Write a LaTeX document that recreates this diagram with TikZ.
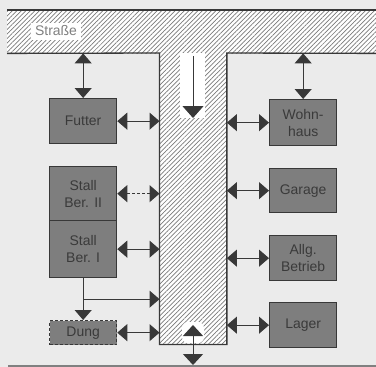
\documentclass[tikz,border=0pt]{standalone}
\usepackage{fontspec}
\setmainfont{Liberation Sans}
\usetikzlibrary{arrows.meta,patterns.meta,calc}
\definecolor{bg}{HTML}{EBEBEB}
\definecolor{boxfill}{HTML}{7E7E7E}
\definecolor{boxline}{HTML}{383838}
\definecolor{txt}{HTML}{3A3A3A}
\definecolor{hatchc}{HTML}{7A7A7A}
\tikzset{
  box/.style={draw=boxline, line width=1.3bp, fill=boxfill, text=txt,
    font=\fontsize{14}{17}\selectfont, align=center, inner sep=0pt,
    anchor=north west, minimum width=67bp},
  hatch/.style={pattern={Lines[angle=45,distance=3.2bp,line width=0.7bp]}, pattern color=hatchc},
  dbl/.style={draw=boxline, line width=1bp, {Triangle[length=10bp,width=17bp]}-{Triangle[length=10bp,width=17bp]}},
  sgl/.style={draw=boxline, line width=1bp, -{Triangle[length=10bp,width=17bp]}},
  outline/.style={draw=boxline, line width=1.3bp}
}
\begin{document}
\begin{tikzpicture}[x=1bp,y=-1bp]
\fill[bg] (0,0) rectangle (376,367);
\useasboundingbox (0,0) rectangle (376,367);
% street
\node[fill=white, minimum width=369bp, minimum height=43bp, inner sep=0pt, anchor=north west] (street) at (7,10) {};
\path[hatch] (street.north west) rectangle (street.south east);
\draw[outline] (street.north west) -- (street.north east);
\node[fill=white, text=gray, font=\fontsize{14}{16}\selectfont, inner sep=0pt, minimum width=50bp, minimum height=17bp] (strasse) at (56,31) {Straße};
% driveway
\node[fill=white, minimum width=67bp, minimum height=291bp, inner sep=0pt, anchor=north west] (drive) at (159.5,53) {};
\path[hatch] (drive.north west) rectangle (drive.south east);
\draw[outline] (street.south west) -- (drive.north west) -- (drive.south west) -- (drive.south east) -- (drive.north east) -- (street.south east);
% entry arrow
\fill[white] (180,53) rectangle (205,118);
\coordinate (in1) at (193,56);
\coordinate (in2) at (193,118);
\draw[draw=boxline, line width=1bp, -{Triangle[length=12bp,width=21bp]}] (in1) -- (in2);
% exit arrow
\fill[white, rounded corners=6bp] (182,343) -- (182,322) -- (204,322) -- (204,343) -- cycle;
\coordinate (ex1) at (193,325);
\coordinate (ex2) at (193,365);
\draw[draw=boxline, line width=1bp, {Triangle[length=11bp,width=20bp]}-{Triangle[length=11bp,width=20bp]}] (ex1) -- (ex2);
% bottom edge
\draw[gray, line width=2bp] (8,366) -- (376,366);
% left boxes
\node[box, minimum height=45bp] (futter) at (49,98) {Futter};
\node[box, minimum height=54bp] (stall2) at (49,166) {Stall\\Ber. II};
\node[box, minimum height=57bp] (stall1) at (49,220) {Stall\\Ber. I};
\node[box, minimum height=24bp, dashed, dash pattern=on 3bp off 2bp] (dung) at (49,320) {Dung};
% right boxes
\node[box, minimum height=46bp] (wohn) at (269,99) {Wohn-\\haus};
\node[box, minimum height=44bp] (garage) at (269,168) {Garage};
\node[box, minimum height=45bp] (allg) at (269,235) {Allg.\\Betrieb};
\node[box, minimum height=45bp] (lager) at (269,302) {Lager};
% connectors
\draw[dbl] (futter.north |- street.south) -- (futter.north);
\draw[dbl] (wohn.north |- street.south) -- (wohn.north);
\draw[dbl] (futter.east) -- (futter.east -| drive.west);
\draw[dbl, dashed, dash pattern=on 3bp off 2bp] (stall2.east) -- (stall2.east -| drive.west);
\draw[dbl] (stall1.east) -- (stall1.east -| drive.west);
\draw[dbl] (dung.east) -- (dung.east -| drive.west);
\draw[sgl] (stall1.south) -- (dung.north);
\coordinate (br) at ($(stall1.south)!0.5!(dung.north)$);
\draw[sgl] (br) -- (br -| drive.west);
\draw[dbl] (drive.east |- wohn.west) -- (wohn.west);
\draw[dbl] (drive.east |- garage.west) -- (garage.west);
\draw[dbl] (drive.east |- allg.west) -- (allg.west);
\draw[dbl] (drive.east |- lager.west) -- (lager.west);
\end{tikzpicture}
\end{document}
